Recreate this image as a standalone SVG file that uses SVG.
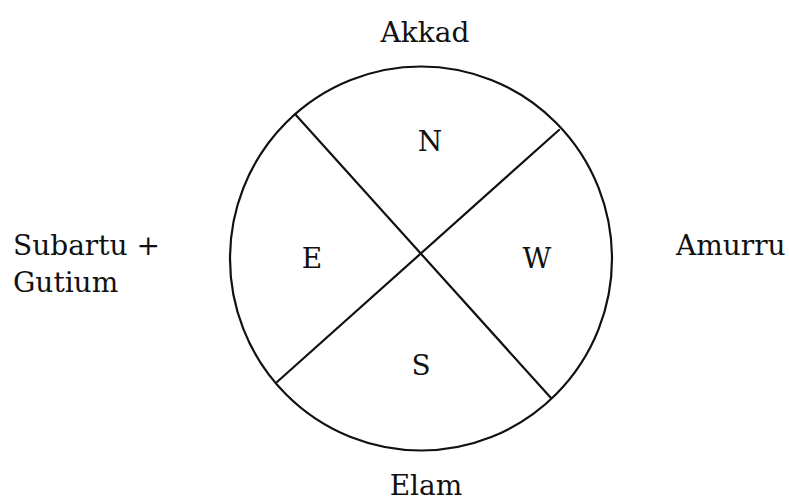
<svg xmlns="http://www.w3.org/2000/svg" width="789" height="503" viewBox="0 0 789 503">
<style>
.lbl{font-family:"DejaVu Serif","Liberation Serif",serif;font-size:28px;fill:#111;}
.ln{stroke:#111;stroke-width:2.2;fill:none;stroke-linecap:round;}
</style>
<rect width="789" height="503" fill="#fff"/>
<g id="circle">
<ellipse class="ln" cx="421" cy="258.5" rx="191" ry="192"/>
</g>
<g id="connectors">
<line class="ln" x1="295" y1="114" x2="551" y2="398"/>
<line class="ln" x1="559" y1="130" x2="277" y2="382"/>
</g>
<g id="quadrant-N"><text class="lbl" x="430" y="151" text-anchor="middle">N</text></g>
<g id="quadrant-E"><text class="lbl" x="312" y="268" text-anchor="middle">E</text></g>
<g id="quadrant-W"><text class="lbl" x="537" y="268" text-anchor="middle">W</text></g>
<g id="quadrant-S"><text class="lbl" x="421" y="375" text-anchor="middle">S</text></g>
<g id="label-akkad"><text class="lbl" x="425" y="42" text-anchor="middle">Akkad</text></g>
<g id="label-amurru"><text class="lbl" x="676" y="255">Amurru</text></g>
<g id="label-elam"><text class="lbl" x="426" y="495" text-anchor="middle">Elam</text></g>
<g id="label-subartu"><text class="lbl" x="13" y="255">Subartu +</text><text class="lbl" x="13" y="292">Gutium</text></g>
</svg>
